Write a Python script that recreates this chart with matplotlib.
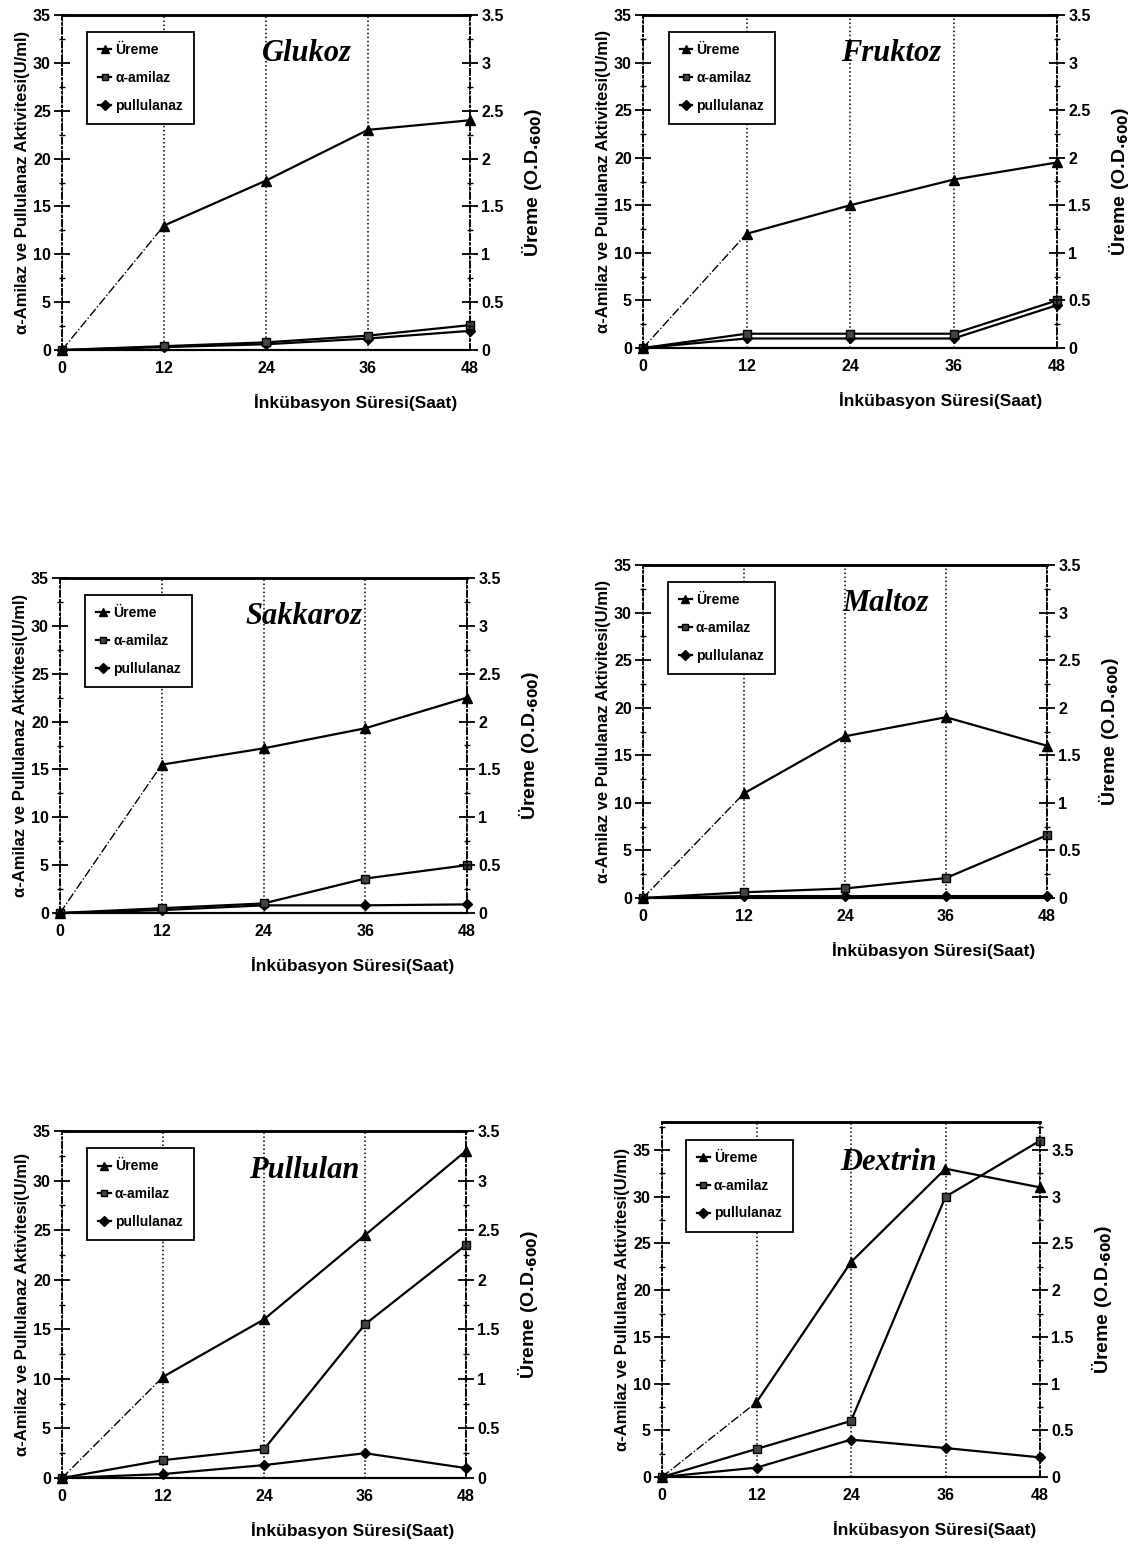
import matplotlib
matplotlib.use("Agg")
import matplotlib.pyplot as plt
from matplotlib.ticker import MultipleLocator, FormatStrFormatter

plt.rcParams['font.family'] = ['Liberation Sans', 'DejaVu Sans']
plt.rcParams['font.weight'] = 'bold'

hours = [0, 12, 24, 36, 48]

# Üreme in O.D.600 (right axis), enzyme activities in U/ml (left axis)
glukoz_ureme = [0, 1.30, 1.77, 2.30, 2.40]
glukoz_amilaz = [0, 0.4, 0.8, 1.5, 2.6]
glukoz_pullulanaz = [0, 0.3, 0.6, 1.2, 2.0]

fruktoz_ureme = [0, 1.20, 1.50, 1.77, 1.95]
fruktoz_amilaz = [0, 1.5, 1.5, 1.5, 5.0]
fruktoz_pullulanaz = [0, 1.0, 1.0, 1.0, 4.5]

sakkaroz_ureme = [0, 1.55, 1.72, 1.93, 2.25]
sakkaroz_amilaz = [0, 0.5, 1.0, 3.6, 5.0]
sakkaroz_pullulanaz = [0, 0.3, 0.8, 0.8, 0.9]

maltoz_ureme = [0, 1.10, 1.70, 1.90, 1.60]
maltoz_amilaz = [0, 0.6, 1.0, 2.1, 6.6]
maltoz_pullulanaz = [0, 0.2, 0.2, 0.2, 0.2]

pullulan_ureme = [0, 1.02, 1.60, 2.45, 3.30]
pullulan_amilaz = [0, 1.8, 2.9, 15.5, 23.5]
pullulan_pullulanaz = [0, 0.4, 1.3, 2.5, 1.0]

dextrin_ureme = [0, 0.80, 2.30, 3.30, 3.10]
dextrin_amilaz = [0, 3.0, 6.0, 30.0, 36.0]
dextrin_pullulanaz = [0, 1.0, 4.0, 3.1, 2.1]

panels = [
    ("Glukoz", glukoz_ureme, glukoz_amilaz, glukoz_pullulanaz),
    ("Fruktoz", fruktoz_ureme, fruktoz_amilaz, fruktoz_pullulanaz),
    ("Sakkaroz", sakkaroz_ureme, sakkaroz_amilaz, sakkaroz_pullulanaz),
    ("Maltoz", maltoz_ureme, maltoz_amilaz, maltoz_pullulanaz),
    ("Pullulan", pullulan_ureme, pullulan_amilaz, pullulan_pullulanaz),
    ("Dextrin", dextrin_ureme, dextrin_amilaz, dextrin_pullulanaz),
]

# axes boxes in pixels: left, right, top, bottom
boxes = [
    (62, 470, 15, 350),
    (643, 1057, 15, 348),
    (60, 467, 578, 913),
    (643, 1047, 565, 898),
    (62, 466, 1131, 1478),
    (662, 1040, 1122, 1477),
]
ytops = [35, 35, 35, 35, 35, 38]

W, H = 1138, 1548
fig = plt.figure(figsize=(W / 100, H / 100), dpi=100)

for (name, ureme, amilaz, pull), (l, r, t, b), ytop in zip(panels, boxes, ytops):
    ax = fig.add_axes([l / W, 1 - b / H, (r - l) / W, (b - t) / H])
    ax2 = ax.twinx()

    ax.set_xlim(0, 48)
    ax.set_ylim(0, ytop)
    ax2.set_ylim(0, ytop / 10)

    # enzyme lines on left axis
    ax.plot(hours, pull, color='k', lw=1.6, marker='D', ms=5.5, clip_on=False, zorder=3)
    ax.plot(hours, amilaz, color='k', lw=1.6, marker='s', ms=5.5, mfc='#444444',
            clip_on=False, zorder=3)
    # growth on right axis, first segment dash-dot
    ax2.plot(hours[:2], ureme[:2], color='k', lw=1.0, ls='-.', zorder=3)
    ax2.plot(hours[1:], ureme[1:], color='k', lw=1.6, zorder=3)
    ax2.plot(hours, ureme, ls='none', color='k', marker='^', ms=6.5, clip_on=False, zorder=3)

    # legend proxies
    h1, = ax.plot([], [], color='k', lw=1.6, marker='^', ms=6)
    h2, = ax.plot([], [], color='k', lw=1.6, marker='s', ms=5, mfc='#444444')
    h3, = ax.plot([], [], color='k', lw=1.6, marker='D', ms=5)
    leg = ax.legend([h1, h2, h3], ['Üreme', 'α-amilaz', 'pullulanaz'],
                    loc='upper left', bbox_to_anchor=(0.045, 0.97),
                    handlelength=0.9, handletextpad=0.3, labelspacing=1.0,
                    borderpad=0.8, fancybox=False, framealpha=1,
                    edgecolor='k', prop={'size': 10, 'weight': 'bold'})
    leg.get_frame().set_linewidth(1.3)

    ax.text(0.6, 0.885, name, transform=ax.transAxes, ha='center', va='center',
            family=['Liberation Serif', 'DejaVu Serif'], style='italic',
            fontweight='bold', fontsize=22)

    ax.set_xticks(hours)
    ax.grid(axis='x', ls=':', color='k', lw=1.1)
    ax.yaxis.set_major_locator(MultipleLocator(5))
    ax.yaxis.set_minor_locator(MultipleLocator(2.5))
    ax2.yaxis.set_major_locator(MultipleLocator(0.5))
    ax2.yaxis.set_minor_locator(MultipleLocator(0.25))
    ax2.yaxis.set_major_formatter(FormatStrFormatter('%g'))
    if ytop > 35:
        ax.set_yticks(range(0, 36, 5))
        ax2.set_yticks([0, 0.5, 1, 1.5, 2, 2.5, 3, 3.5])

    for a in (ax, ax2):
        a.tick_params(axis='y', which='major', direction='inout', length=12,
                      width=1.3, labelsize=11.5, pad=2)
        a.tick_params(axis='y', which='minor', direction='inout', length=4, width=1)
    ax.tick_params(axis='x', length=0, labelsize=11.5, pad=8)

    for a in (ax, ax2):
        a.spines['top'].set_linewidth(1.8)
        a.spines['bottom'].set_linewidth(1.5)
        a.spines['left'].set_linestyle((0, (4, 2, 1, 2)))
        a.spines['left'].set_linewidth(1.1)
        a.spines['right'].set_linestyle((0, (4, 2, 1, 2)))
        a.spines['right'].set_linewidth(1.1)

    ax.set_xlabel('İnkübasyon Süresi(Saat)', fontsize=12.5, fontweight='bold',
                  x=0.72, labelpad=13)
    ax.set_ylabel('α-Amilaz ve Pullulanaz Aktivitesi(U/ml)', fontsize=12,
                  fontweight='bold', labelpad=2)
    ax2.set_ylabel('Üreme (O.D.$_{\\mathbf{600}}$)', fontsize=14,
                   fontweight='bold', labelpad=12)

fig.savefig('out.png', dpi=100)
